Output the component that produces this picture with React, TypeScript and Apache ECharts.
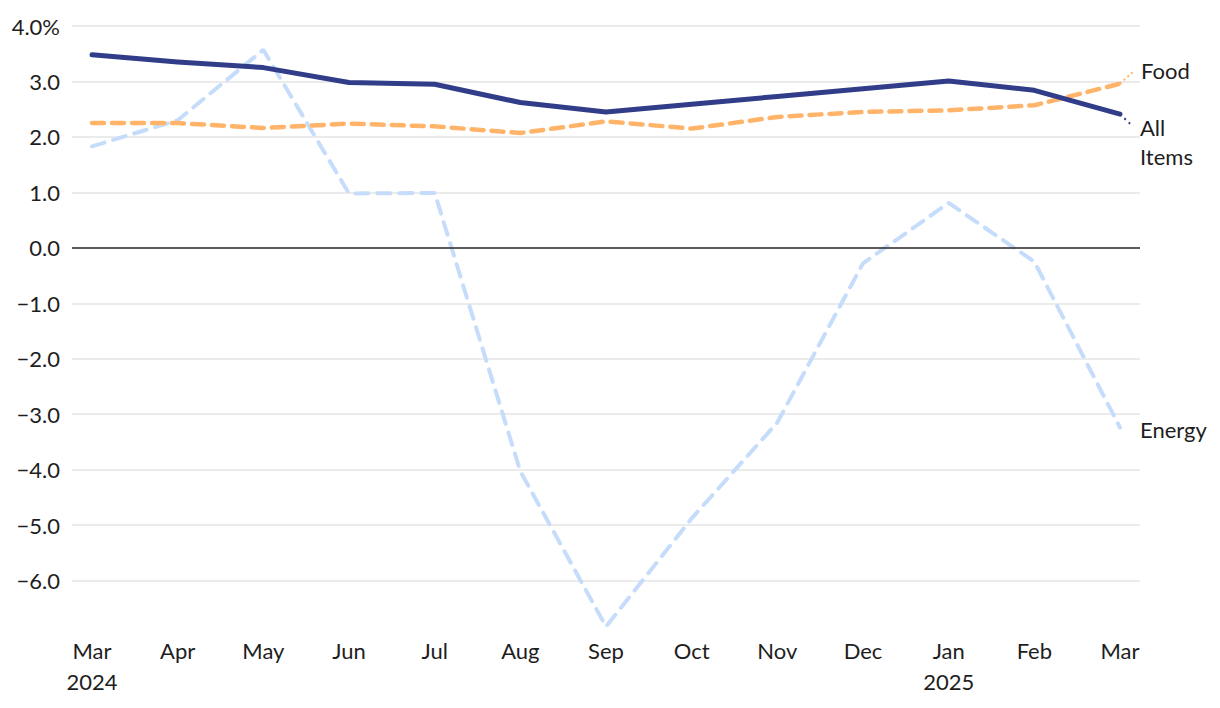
import React, { useEffect, useRef } from "react";
import * as echarts from "echarts";

const months = ["Mar", "Apr", "May", "Jun", "Jul", "Aug", "Sep", "Oct", "Nov", "Dec", "Jan", "Feb", "Mar"];
const years = ["2024", "", "", "", "", "", "", "", "", "", "2025", "", ""];
const allItems = [3.48, 3.35, 3.25, 2.98, 2.95, 2.62, 2.45, 2.59, 2.73, 2.87, 3.01, 2.84, 2.41];
const food = [2.25, 2.25, 2.16, 2.24, 2.19, 2.07, 2.28, 2.15, 2.36, 2.45, 2.48, 2.57, 2.96];
const energy = [1.83, 2.3, 3.57, 0.98, 0.99, -4.03, -6.83, -4.88, -3.15, -0.28, 0.81, -0.25, -3.24];
const yTicks = [-7, -6, -5, -4, -3, -2, -1, 0, 1, 2, 3, 4];
// label leader-line end points (data units)
const foodLeaderEnd = [12.15, 3.17];
const allLeaderEnd = [12.15, 2.19];

const FONT = "Lato";
const TEXT = "#1e1e1e";
const FS = 22;

const toPairs = (arr: number[]) => arr.map((v, i) => [i, v]);
const fmt = (v: number) => {
  if (v === yTicks[0]) return "";
  const s = Math.abs(v).toFixed(1);
  const t = (v < 0 ? "\u2212" : "") + s;
  return v === yTicks[yTicks.length - 1] ? t + "%" : t;
};

export default function App() {
  const ref = useRef<HTMLDivElement>(null);
  useEffect(() => {
    if (!ref.current) return;
    const chart = echarts.init(ref.current, null, { renderer: "svg" });
    const last = months.length - 1;
    const gridColors = yTicks.map((v, i) => (i === 0 ? "rgba(0,0,0,0)" : "#e5e5e5"));
    chart.setOption({
      animation: false,
      textStyle: { fontFamily: FONT },
      grid: { left: 72, right: 80, top: 26, bottom: 72, outerBoundsMode: "none" },
      xAxis: {
        type: "value",
        min: -0.2335,
        max: last + 0.2335,
        axisLine: { show: false },
        axisTick: { show: false },
        splitLine: { show: false },
        axisLabel: {
          customValues: months.map((_, i) => i),
          formatter: (v: number) => {
            const i = Math.round(v);
            return years[i] ? months[i] + "\n" + years[i] : months[i];
          },
          color: TEXT,
          fontSize: FS,
          fontFamily: FONT,
          lineHeight: 31,
          margin: -1,
          verticalAlign: "top",
        },
      },
      yAxis: {
        type: "value",
        min: yTicks[0],
        max: yTicks[yTicks.length - 1],
        interval: 1,
        axisLine: { show: false },
        axisTick: { show: false },
        splitLine: { show: true, lineStyle: { color: gridColors, width: 1.5 } },
        axisLabel: {
          formatter: fmt,
          color: TEXT,
          fontSize: FS,
          fontFamily: FONT,
          margin: 12,
        },
      },
      series: [
        {
          name: "Energy",
          type: "line",
          data: toPairs(energy),
          showSymbol: false,
          symbol: "none",
          z: 2,
          lineStyle: { color: "#c6dcfb", width: 4, type: [13, 9], cap: "round" },
          endLabel: {
            show: true,
            formatter: "Energy",
            color: TEXT,
            fontSize: FS,
            fontFamily: FONT,
            offset: [12, 2],
          },
          markLine: {
            silent: true,
            symbol: "none",
            label: { show: false },
            lineStyle: { color: "#2b2b2b", width: 1.5, type: "solid" },
            data: [{ yAxis: 0 }],
          },
        },
        {
          name: "Food",
          type: "line",
          data: toPairs(food),
          showSymbol: false,
          symbol: "none",
          z: 3,
          lineStyle: { color: "#ffb469", width: 4.5, type: [12, 8], cap: "round" },
          endLabel: {
            show: true,
            formatter: "Food",
            color: TEXT,
            fontSize: FS,
            fontFamily: FONT,
            offset: [13, -13],
          },
          markLine: {
            silent: true,
            symbol: "none",
            label: { show: false },
            lineStyle: { color: "#ffb469", width: 2, type: [2, 3] },
            data: [[{ coord: [last, food[last]] }, { coord: foodLeaderEnd }]],
          },
        },
        {
          name: "All Items",
          type: "line",
          data: toPairs(allItems),
          showSymbol: false,
          symbol: "none",
          z: 4,
          lineStyle: { color: "#313d89", width: 5, cap: "round", join: "round" },
          endLabel: {
            show: true,
            formatter: "All\nItems",
            color: TEXT,
            fontSize: FS,
            lineHeight: 29,
            fontFamily: FONT,
            offset: [12, 28],
          },
          markLine: {
            silent: true,
            symbol: "none",
            label: { show: false },
            lineStyle: { color: "#313d89", width: 2, type: [2, 4] },
            data: [[{ coord: [last, allItems[last]] }, { coord: allLeaderEnd }]],
          },
        },
      ],
    });
    return () => chart.dispose();
  }, []);
  return (
    <div
      ref={ref}
      style={{ position: "fixed", left: 0, top: 0, width: 1220, height: 708, background: "#fff" }}
    />
  );
}
